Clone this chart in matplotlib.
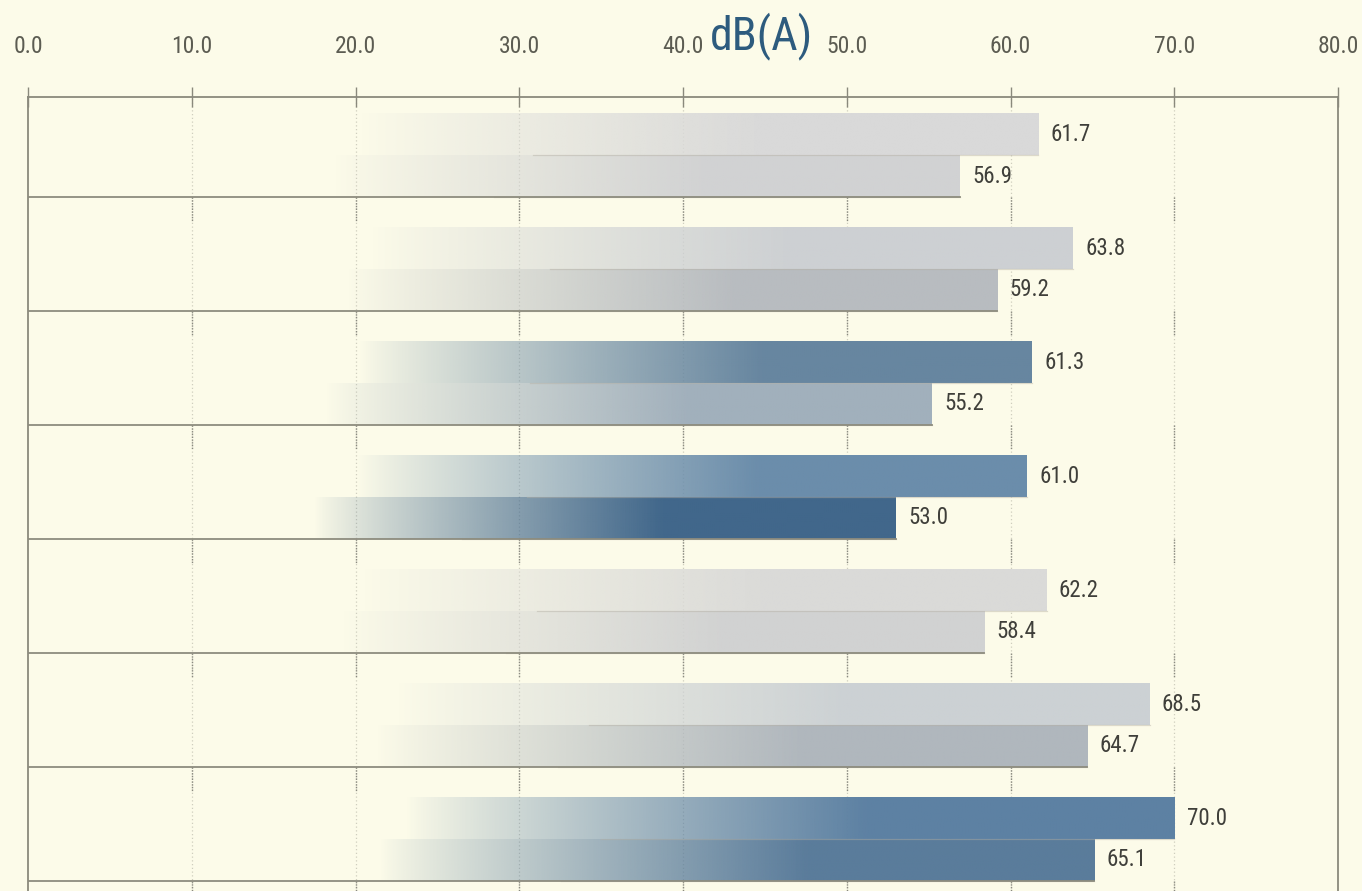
import numpy as np
import matplotlib
matplotlib.use("Agg")
import matplotlib.pyplot as plt
from matplotlib.colors import to_rgb

# ---- data ----
groups = ["1", "2", "3", "4", "5", "6", "7"]
upper_values = [61.7, 63.8, 61.3, 61.0, 62.2, 68.5, 70.0]
lower_values = [56.9, 59.2, 55.2, 53.0, 58.4, 64.7, 65.1]
upper_colors = ["#d9d9d9", "#cdd0d3", "#6786a0", "#6b8dab", "#dadad8", "#ccd1d4", "#5d81a3"]
lower_colors = ["#d1d2d3", "#b8bcc0", "#a1b0bc", "#41678b", "#d1d2d2", "#b0b7bd", "#5a7c9b"]
x_ticks = [0, 10, 20, 30, 40, 50, 60, 70, 80]
title = "dB(A)"

BG = "#fcfbe9"
FONT = ["Liberation Sans Narrow", "Roboto Condensed", "DejaVu Sans"]
plt.rcParams["font.family"] = FONT

fig = plt.figure(figsize=(13.62, 8.91), dpi=100, facecolor=BG)
ax = fig.add_axes([28 / 1362, 0.0, 1310 / 1362, (891 - 97) / 891])
ax.set_facecolor(BG)

n = len(groups)
pos = np.arange(n)
h = 0.368
ax.set_xlim(0, 80)
ax.set_ylim(6.456, -0.509)

# grid
for xt in x_ticks[1:-1]:
    ax.axvline(xt, color="#cfcebe", lw=0.9, ls=(0, (1, 2)), zorder=0)


def grad_bar(y, v, color, z):
    bars = ax.barh([y], [v], height=h, color="none", edgecolor="none", zorder=z)
    patch = bars.patches[0]
    xs = np.linspace(0, v, 400)
    a = np.clip((xs - 0.33 * v) / (0.40 * v), 0, 1) ** 0.85
    rgb = np.array(to_rgb(color))
    img = np.zeros((1, len(xs), 4))
    img[0, :, :3] = rgb
    img[0, :, 3] = a
    im = ax.imshow(img, extent=(0, v, y + h / 2, y - h / 2), aspect="auto",
                   interpolation="bilinear", zorder=z)
    im.set_clip_path(patch)
    # subtle darker bottom edge
    ax.plot([0.5 * v, v], [y + h / 2, y + h / 2], color="#b5b0a4", lw=0.9,
            alpha=0.45, zorder=z + 0.1)


for i in range(n):
    yu = pos[i] - h / 2
    yl = pos[i] + h / 2
    grad_bar(yu, upper_values[i], upper_colors[i], 2)
    grad_bar(yl, lower_values[i], lower_colors[i], 2)
    ax.text(upper_values[i] + 0.75, yu, f"{upper_values[i]:.1f}", va="center", ha="left",
            fontsize=16.5, color="#3f3f3a", zorder=5)
    ax.text(lower_values[i] + 0.75, yl, f"{lower_values[i]:.1f}", va="center", ha="left",
            fontsize=16.5, color="#3f3f3a", zorder=5)
    sep = pos[i] + h
    ax.plot([0, lower_values[i]], [sep, sep], color="#8d8c7e", lw=1.3, zorder=3)
    for xt in x_ticks[1:-1]:
        ax.plot([xt, xt], [sep, sep + 0.22], color="#8a8a80", lw=1.0,
                ls=(0, (1, 1)), zorder=1)

# spines / axis
ax.spines["bottom"].set_visible(False)
for s in ["top", "left", "right"]:
    ax.spines[s].set_color("#8a897c")
    ax.spines[s].set_linewidth(1.3)
ax.xaxis.set_ticks_position("top")
ax.set_xticks(x_ticks)
ax.set_xticklabels([f"{t:.1f}" for t in x_ticks])
ax.tick_params(axis="x", direction="inout", length=14, width=1.0, color="#8a897c",
               labelsize=17, labelcolor="#5c5c52", pad=21)
ax.set_yticks([])

fig.text(762 / 1362, 1 - 36 / 891, title, ha="center", va="center", fontsize=33,
         color="#2d5b7e")

fig.savefig("out.png", dpi=100, facecolor=BG)
